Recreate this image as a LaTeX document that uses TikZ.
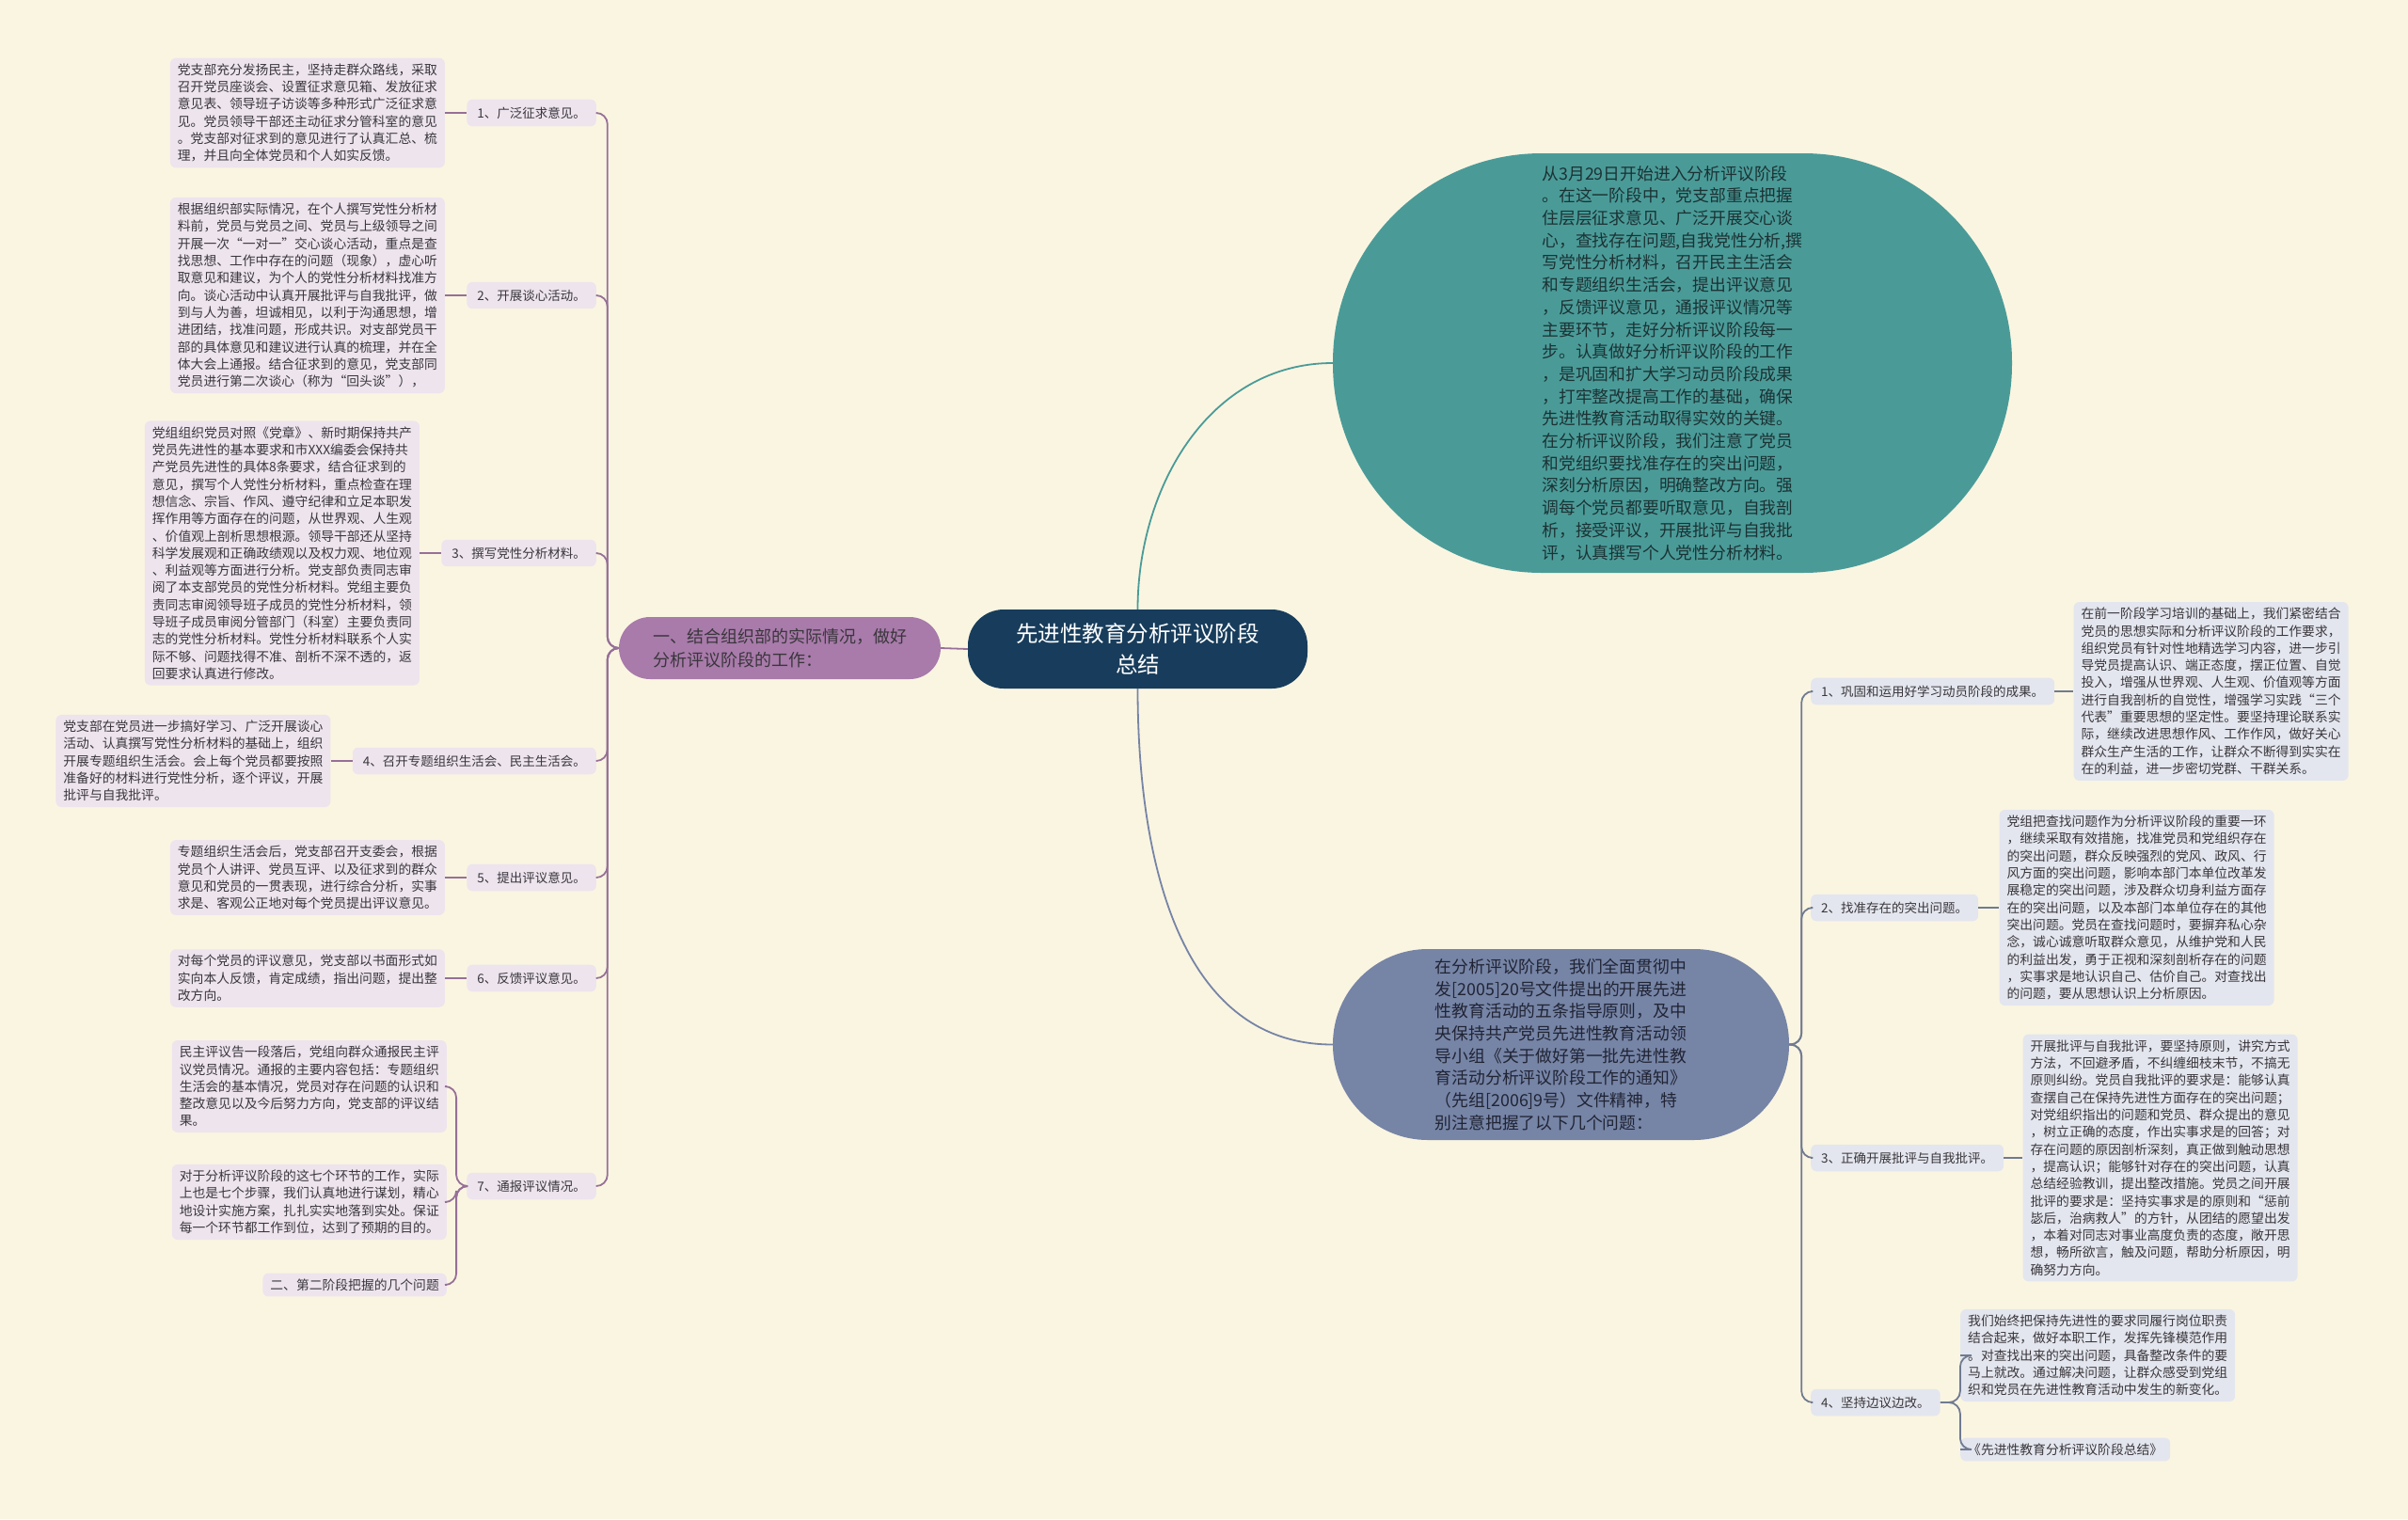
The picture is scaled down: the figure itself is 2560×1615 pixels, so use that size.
\documentclass[tikz,border=0pt]{standalone}
\usepackage{fontspec}
\setmainfont{Noto Sans CJK SC}
\usetikzlibrary{positioning}
\definecolor{paper}{RGB}{250,245,225}
\definecolor{rootnavy}{RGB}{24,61,92}
\definecolor{plum}{RGB}{168,123,170}
\definecolor{plumline}{RGB}{150,112,152}
\definecolor{plumleaf}{RGB}{237,228,238}
\definecolor{tealbub}{RGB}{74,155,152}
\definecolor{slatebub}{RGB}{118,132,166}
\definecolor{slateline}{RGB}{112,122,145}
\definecolor{slateleaf}{RGB}{227,230,238}
\definecolor{inkdark}{RGB}{58,54,60}
\definecolor{inkteal}{RGB}{28,50,52}
\definecolor{inkslate}{RGB}{32,36,52}
\tikzset{
  root box/.style={
    rectangle, rounded corners=38pt, fill=rootnavy, text=white,
    align=center, minimum width=361pt, minimum height=84pt,
    font=\fontsize{23.5}{32.5}\selectfont
  },
  branch box/.style={
    rectangle, rounded corners=33pt, fill=plum, text=inkdark,
    align=left, minimum width=342pt, minimum height=66pt,
    font=\fontsize{18}{24.5}\selectfont
  },
  bubble/.style={
    rectangle, align=left, inner sep=0pt,
    font=\fontsize{17.8}{23.7}\selectfont
  },
  left label/.style={
    rectangle, rounded corners=6pt, fill=plumleaf, text=inkdark,
    inner xsep=11pt, inner ysep=8pt, font=\fontsize{13.5}{16}\selectfont
  },
  left leaf/.style={
    rectangle, rounded corners=6pt, fill=plumleaf, text=inkdark,
    align=left, inner xsep=8pt, inner ysep=6pt,
    font=\fontsize{13.8}{18.3}\selectfont
  },
  right label/.style={left label, fill=slateleaf},
  right leaf/.style={left leaf, fill=slateleaf},
  left link/.style={draw=plumline, line width=1.8pt, rounded corners=12pt},
  right link/.style={draw=slateline, line width=1.8pt, rounded corners=12pt}
}
\begin{document}
\begin{tikzpicture}[x=1pt, y=-1pt]
  \useasboundingbox (0,0) rectangle (2560,1615);
  \fill[paper] (0,0) rectangle (2560,1615);

  \node[root box] (root) at (1209.5,690) {先进性教育分析评议阶段\\总结};
  \node[branch box] (branch) at (829,689) {一、结合组织部的实际情况，做好\\分析评议阶段的工作：};
  \node[bubble, fill=tealbub, text=inkteal, minimum width=722pt, minimum height=446pt,
    rounded corners=222pt] (stage) at (1778,386) {从3月29日开始进入分析评议阶段\\
。在这一阶段中，党支部重点把握\\
住层层征求意见、广泛开展交心谈\\
心，查找存在问题,自我党性分析,撰\\
写党性分析材料，召开民主生活会\\
和专题组织生活会，提出评议意见\\
，反馈评议意见，通报评议情况等\\
主要环节，走好分析评议阶段每一\\
步。认真做好分析评议阶段的工作\\
，是巩固和扩大学习动员阶段成果\\
，打牢整改提高工作的基础，确保\\
先进性教育活动取得实效的关键。\\
在分析评议阶段，我们注意了党员\\
和党组织要找准存在的突出问题，\\
深刻分析原因，明确整改方向。强\\
调每个党员都要听取意见，自我剖\\
析，接受评议，开展批评与自我批\\
评，认真撰写个人党性分析材料。};
  \node[bubble, fill=slatebub, text=inkslate, minimum width=485pt, minimum height=203pt,
    rounded corners=101pt] (second) at (1659.5,1110.5) {在分析评议阶段，我们全面贯彻中\\
发[2005]20号文件提出的开展先进\\
性教育活动的五条指导原则，及中\\
央保持共产党员先进性教育活动领\\
导小组《关于做好第一批先进性教\\
育活动分析评议阶段工作的通知》\\
（先组[2006]9号）文件精神，特\\
别注意把握了以下几个问题：};

  \node[left label, anchor=east] (lab1) at (634,120) {1、广泛征求意见。};
  \node[left label, anchor=east] (lab2) at (634,314) {2、开展谈心活动。};
  \node[left label, anchor=east] (lab3) at (634,588) {3、撰写党性分析材料。};
  \node[left label, anchor=east] (lab4) at (634,809) {4、召开专题组织生活会、民主生活会。};
  \node[left label, anchor=east] (lab5) at (634,933) {5、提出评议意见。};
  \node[left label, anchor=east] (lab6) at (634,1040) {6、反馈评议意见。};
  \node[left label, anchor=east] (lab7) at (634,1261) {7、通报评议情况。};

  \node[left leaf, left=23pt of lab1] (txt1) {党支部充分发扬民主，坚持走群众路线，采取\\
召开党员座谈会、设置征求意见箱、发放征求\\
意见表、领导班子访谈等多种形式广泛征求意\\
见。党员领导干部还主动征求分管科室的意见\\
。党支部对征求到的意见进行了认真汇总、梳\\
理，并且向全体党员和个人如实反馈。};
  \node[left leaf, left=23pt of lab2] (txt2) {根据组织部实际情况，在个人撰写党性分析材\\
料前，党员与党员之间、党员与上级领导之间\\
开展一次“一对一”交心谈心活动，重点是查\\
找思想、工作中存在的问题（现象），虚心听\\
取意见和建议，为个人的党性分析材料找准方\\
向。谈心活动中认真开展批评与自我批评，做\\
到与人为善，坦诚相见，以利于沟通思想，增\\
进团结，找准问题，形成共识。对支部党员干\\
部的具体意见和建议进行认真的梳理，并在全\\
体大会上通报。结合征求到的意见，党支部同\\
党员进行第二次谈心（称为“回头谈”），};
  \node[left leaf, left=23pt of lab3] (txt3) {党组组织党员对照《党章》、新时期保持共产\\
党员先进性的基本要求和市XXX编委会保持共\\
产党员先进性的具体8条要求，结合征求到的\\
意见，撰写个人党性分析材料，重点检查在理\\
想信念、宗旨、作风、遵守纪律和立足本职发\\
挥作用等方面存在的问题，从世界观、人生观\\
、价值观上剖析思想根源。领导干部还从坚持\\
科学发展观和正确政绩观以及权力观、地位观\\
、利益观等方面进行分析。党支部负责同志审\\
阅了本支部党员的党性分析材料。党组主要负\\
责同志审阅领导班子成员的党性分析材料，领\\
导班子成员审阅分管部门（科室）主要负责同\\
志的党性分析材料。党性分析材料联系个人实\\
际不够、问题找得不准、剖析不深不透的，返\\
回要求认真进行修改。};
  \node[left leaf, left=23pt of lab4] (txt4) {党支部在党员进一步搞好学习、广泛开展谈心\\
活动、认真撰写党性分析材料的基础上，组织\\
开展专题组织生活会。会上每个党员都要按照\\
准备好的材料进行党性分析，逐个评议，开展\\
批评与自我批评。};
  \node[left leaf, left=23pt of lab5] (txt5) {专题组织生活会后，党支部召开支委会，根据\\
党员个人讲评、党员互评、以及征求到的群众\\
意见和党员的一贯表现，进行综合分析，实事\\
求是、客观公正地对每个党员提出评议意见。};
  \node[left leaf, left=23pt of lab6] (txt6) {对每个党员的评议意见，党支部以书面形式如\\
实向本人反馈，肯定成绩，指出问题，提出整\\
改方向。};
  \node[left leaf, anchor=east] (txt7a) at (475,1155) {民主评议告一段落后，党组向群众通报民主评\\
议党员情况。通报的主要内容包括：专题组织\\
生活会的基本情况，党员对存在问题的认识和\\
整改意见以及今后努力方向，党支部的评议结\\
果。};
  \node[left leaf, anchor=east] (txt7b) at (475,1278) {对于分析评议阶段的这七个环节的工作，实际\\
上也是七个步骤，我们认真地进行谋划，精心\\
地设计实施方案，扎扎实实地落到实处。保证\\
每一个环节都工作到位，达到了预期的目的。};
  \node[left leaf, anchor=east] (txt7c) at (475,1366) {二、第二阶段把握的几个问题};

  \node[right label, anchor=west] (rlab1) at (1925,735) {1、巩固和运用好学习动员阶段的成果。};
  \node[right label, anchor=west] (rlab2) at (1925,965) {2、找准存在的突出问题。};
  \node[right label, anchor=west] (rlab3) at (1925,1231) {3、正确开展批评与自我批评。};
  \node[right label, anchor=west] (rlab4) at (1925,1491) {4、坚持边议边改。};

  \node[right leaf, right=20pt of rlab1] (rtxt1) {在前一阶段学习培训的基础上，我们紧密结合\\
党员的思想实际和分析评议阶段的工作要求，\\
组织党员有针对性地精选学习内容，进一步引\\
导党员提高认识、端正态度，摆正位置、自觉\\
投入，增强从世界观、人生观、价值观等方面\\
进行自我剖析的自觉性，增强学习实践“三个\\
代表”重要思想的坚定性。要坚持理论联系实\\
际，继续改进思想作风、工作作风，做好关心\\
群众生产生活的工作，让群众不断得到实实在\\
在的利益，进一步密切党群、干群关系。};
  \node[right leaf, right=22pt of rlab2] (rtxt2) {党组把查找问题作为分析评议阶段的重要一环\\
，继续采取有效措施，找准党员和党组织存在\\
的突出问题，群众反映强烈的党风、政风、行\\
风方面的突出问题，影响本部门本单位改革发\\
展稳定的突出问题，涉及群众切身利益方面存\\
在的突出问题，以及本部门本单位存在的其他\\
突出问题。党员在查找问题时，要摒弃私心杂\\
念，诚心诚意听取群众意见，从维护党和人民\\
的利益出发，勇于正视和深刻剖析存在的问题\\
，实事求是地认识自己、估价自己。对查找出\\
的问题，要从思想认识上分析原因。};
  \node[right leaf, right=20pt of rlab3] (rtxt3) {开展批评与自我批评，要坚持原则，讲究方式\\
方法，不回避矛盾，不纠缠细枝末节，不搞无\\
原则纠纷。党员自我批评的要求是：能够认真\\
查摆自己在保持先进性方面存在的突出问题；\\
对党组织指出的问题和党员、群众提出的意见\\
，树立正确的态度，作出实事求是的回答；对\\
存在问题的原因剖析深刻，真正做到触动思想\\
，提高认识；能够针对存在的突出问题，认真\\
总结经验教训，提出整改措施。党员之间开展\\
批评的要求是：坚持实事求是的原则和“惩前\\
毖后，治病救人”的方针，从团结的愿望出发\\
，本着对同志对事业高度负责的态度，敞开思\\
想，畅所欲言，触及问题，帮助分析原因，明\\
确努力方向。};
  \node[right leaf, anchor=west] (rtxt4a) at (2084,1441) {我们始终把保持先进性的要求同履行岗位职责\\
结合起来，做好本职工作，发挥先锋模范作用\\
。对查找出来的突出问题，具备整改条件的要\\
马上就改。通过解决问题，让群众感受到党组\\
织和党员在先进性教育活动中发生的新变化。};
  \node[right leaf, anchor=west] (rtxt4b) at (2084,1541) {《先进性教育分析评议阶段总结》};

  \draw[draw=plumline, line width=1.8pt] (root.west) -- (branch.east);
  \draw[draw=tealbub, line width=1.8pt] (root.north) to[out=90, in=180] (stage.west);
  \draw[draw=slatebub, line width=1.8pt] (root.south) to[out=-90, in=180] (second.west);

  \foreach \n in {1,...,7}
    \draw[left link] (branch.west) -- ++(-12,0) |- (lab\n.east);
  \foreach \n in {1,...,6}
    \draw[left link] (lab\n.west) -- (txt\n.east);
  \foreach \c in {a,b,c}
    \draw[left link] (lab7.west) -- ++(-11,0) |- (txt7\c.east);

  \foreach \n in {1,...,4}
    \draw[right link] (second.east) -- ++(13,0) |- (rlab\n.west);
  \foreach \n in {1,...,3}
    \draw[right link] (rlab\n.east) -- (rtxt\n.west);
  \foreach \c in {a,b}
    \draw[right link] (rlab4.east) -- ++(21,0) |- (rtxt4\c.west);
\end{tikzpicture}
\end{document}
